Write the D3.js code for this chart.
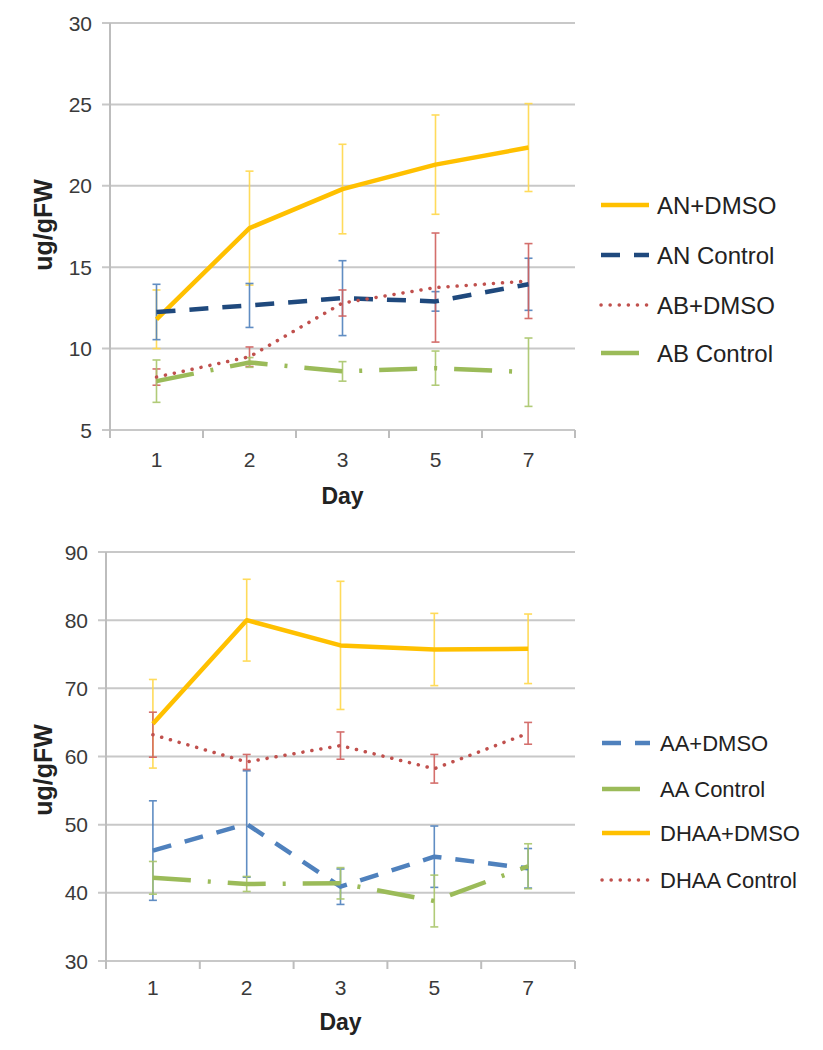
<!DOCTYPE html>
<html><head><meta charset="utf-8">
<script src="https://cdn.jsdelivr.net/npm/d3@7"></script>
<style>body{margin:0;background:#fff}svg{display:block}</style>
</head><body>
<script>
// ---- data ----
const days = ["1", "2", "3", "5", "7"];

// top chart
const topTicks = [5, 10, 15, 20, 25, 30];
const anDmso = [11.8, 17.4, 19.8, 21.3, 22.35];
const anDmsoErr = [1.8, 3.5, 2.75, 3.05, 2.7];
const anControl = [12.25, 12.65, 13.1, 12.9, 13.95];
const anControlErr = [1.7, 1.35, 2.3, 0.6, 1.6];
const abDmso = [8.25, 9.5, 12.8, 13.75, 14.15];
const abDmsoErr = [0.5, 0.6, 0.8, 3.35, 2.3];
const abControl = [8.0, 9.15, 8.6, 8.8, 8.55];
const abControlErr = [1.3, 0.3, 0.6, 1.05, 2.1];

// bottom chart
const bottomTicks = [30, 40, 50, 60, 70, 80, 90];
const aaDmso = [46.2, 50.1, 40.9, 45.3, 43.6];
const aaDmsoErr = [7.3, 7.8, 2.6, 4.5, 2.9];
const aaControl = [42.2, 41.3, 41.4, 38.8, 43.9];
const aaControlErr = [2.4, 1.1, 2.3, 3.8, 3.3];
const dhaaDmso = [64.8, 80.0, 76.3, 75.7, 75.8];
const dhaaDmsoErr = [6.5, 6.0, 9.4, 5.3, 5.1];
const dhaaControl = [63.2, 59.2, 61.6, 58.2, 63.4];
const dhaaControlErr = [3.3, 1.1, 2.0, 2.1, 1.6];

const topSeries = [
  {name: "AN+DMSO", values: anDmso, err: anDmsoErr, style: "solidY"},
  {name: "AN Control", values: anControl, err: anControlErr, style: "dashNavy"},
  {name: "AB+DMSO", values: abDmso, err: abDmsoErr, style: "dotRed"},
  {name: "AB Control", values: abControl, err: abControlErr, style: "dashDotGreen"}
];
const bottomSeries = [
  {name: "AA+DMSO", values: aaDmso, err: aaDmsoErr, style: "dashBlue"},
  {name: "AA Control", values: aaControl, err: aaControlErr, style: "dashDotGreen"},
  {name: "DHAA+DMSO", values: dhaaDmso, err: dhaaDmsoErr, style: "solidY"},
  {name: "DHAA Control", values: dhaaControl, err: dhaaControlErr, style: "dotRed"}
];

const styles = {
  solidY: {color: "#FFC000", err: "#FFD84A", width: 4.5, dash: null, cap: "butt"},
  dashNavy: {color: "#1F497D", err: "#4F81BD", width: 4.5, dash: "19,14", cap: "butt"},
  dashBlue: {color: "#4F81BD", err: "#4F81BD", width: 4.5, dash: "19,14", cap: "butt"},
  dotRed: {color: "#C0504D", err: "#D0605D", width: 3.5, dash: "0.1,9", cap: "round"},
  dashDotGreen: {color: "#9BBB59", err: "#A9C66A", width: 4.5, dash: "38,17,3,17", cap: "butt"}
};

const W = 823, H = 1050;
const svg = d3.select("body").append("svg").attr("width", W).attr("height", H)
  .style("font-family", "'Liberation Sans', Arial, sans-serif");

function drawChart(cfg) {
  const g = svg.append("g");
  const x = d3.scaleBand().domain(days).range([cfg.x0, cfg.x1]);
  const y = d3.scaleLinear().domain(cfg.domain).range([cfg.yBottom, cfg.yTop]);

  // gridlines
  g.selectAll(".grid").data(cfg.ticks).join("line")
    .attr("x1", cfg.x0 - 8).attr("x2", cfg.x1)
    .attr("y1", d => y(d)).attr("y2", d => y(d))
    .attr("stroke", "#C8C8C8").attr("stroke-width", 2);
  // y axis line
  g.append("line").attr("x1", cfg.x0).attr("x2", cfg.x0)
    .attr("y1", cfg.yTop).attr("y2", cfg.yBottom)
    .attr("stroke", "#BDBDBD").attr("stroke-width", 2);
  // x-axis boundary ticks
  const bounds = days.map(d => x(d)).concat([cfg.x1]);
  g.selectAll(".xt").data(bounds).join("line")
    .attr("x1", d => d).attr("x2", d => d)
    .attr("y1", cfg.yBottom).attr("y2", cfg.yBottom + 8)
    .attr("stroke", "#BDBDBD").attr("stroke-width", 2);

  // y tick labels
  g.selectAll(".yl").data(cfg.ticks).join("text")
    .attr("x", cfg.x0 - 18).attr("y", d => y(d))
    .attr("dy", "0.36em").attr("text-anchor", "end")
    .attr("font-size", cfg.tickSize).attr("fill", "#3A3A3A")
    .text(d => d);
  // x tick labels
  g.selectAll(".xl").data(days).join("text")
    .attr("x", d => x(d) + x.bandwidth() / 2).attr("y", cfg.xLabelY)
    .attr("text-anchor", "middle")
    .attr("font-size", cfg.tickSize).attr("fill", "#3A3A3A")
    .text(d => d);
  // axis titles
  g.append("text").attr("x", (cfg.x0 + cfg.x1) / 2).attr("y", cfg.dayY)
    .attr("text-anchor", "middle").attr("font-weight", "bold")
    .attr("font-size", 23).attr("fill", "#222").text("Day");
  g.append("text")
    .attr("transform", `translate(${cfg.yTitleX},${cfg.yTitleY}) rotate(-90)`)
    .attr("text-anchor", "middle").attr("font-weight", "bold")
    .attr("font-size", 25).attr("fill", "#222").text("ug/gFW");

  const cx = d => x(d) + x.bandwidth() / 2;

  // error bars
  cfg.series.forEach(s => {
    const st = styles[s.style];
    const eg = g.append("g").attr("stroke", st.err).attr("stroke-width", 1.6).attr("opacity", 0.9);
    days.forEach((d, i) => {
      const hi = y(s.values[i] + s.err[i]), lo = y(s.values[i] - s.err[i]);
      eg.append("line").attr("x1", cx(d)).attr("x2", cx(d)).attr("y1", hi).attr("y2", lo);
      eg.append("line").attr("x1", cx(d) - 4).attr("x2", cx(d) + 4).attr("y1", hi).attr("y2", hi);
      eg.append("line").attr("x1", cx(d) - 4).attr("x2", cx(d) + 4).attr("y1", lo).attr("y2", lo);
    });
  });

  // lines
  const line = d3.line().x((v, i) => cx(days[i])).y(v => y(v));
  cfg.series.forEach(s => {
    const st = styles[s.style];
    g.append("path").attr("d", line(s.values))
      .attr("fill", "none").attr("stroke", st.color)
      .attr("stroke-width", st.width)
      .attr("stroke-dasharray", st.dash)
      .attr("stroke-linecap", st.cap)
      .attr("stroke-linejoin", "round");
  });

  // legend
  cfg.series.forEach((s, i) => {
    const st = styles[s.style];
    const ly = cfg.legendY[i];
    g.append("line").attr("x1", cfg.legendX).attr("x2", cfg.legendX + 48)
      .attr("y1", ly).attr("y2", ly)
      .attr("stroke", st.color).attr("stroke-width", st.width)
      .attr("stroke-dasharray", st.dash).attr("stroke-linecap", st.cap);
    g.append("text").attr("x", cfg.legendX + cfg.legendGap).attr("y", ly)
      .attr("dy", "0.36em").attr("font-size", cfg.legendSize).attr("fill", "#222")
      .text(s.name);
  });
}

drawChart({
  x0: 110, x1: 575, yTop: 23, yBottom: 430, domain: [5, 30], ticks: topTicks,
  series: topSeries, tickSize: 21, xLabelY: 467, dayY: 504,
  yTitleX: 52, yTitleY: 225,
  legendX: 601, legendGap: 56, legendY: [205, 255, 305, 353], legendSize: 24
});
drawChart({
  x0: 106, x1: 575, yTop: 552, yBottom: 961, domain: [30, 90], ticks: bottomTicks,
  series: bottomSeries, tickSize: 21, xLabelY: 995, dayY: 1030,
  yTitleX: 52, yTitleY: 770,
  legendX: 602, legendGap: 58, legendY: [743, 789, 833, 880], legendSize: 22
});
</script>
</body></html>
